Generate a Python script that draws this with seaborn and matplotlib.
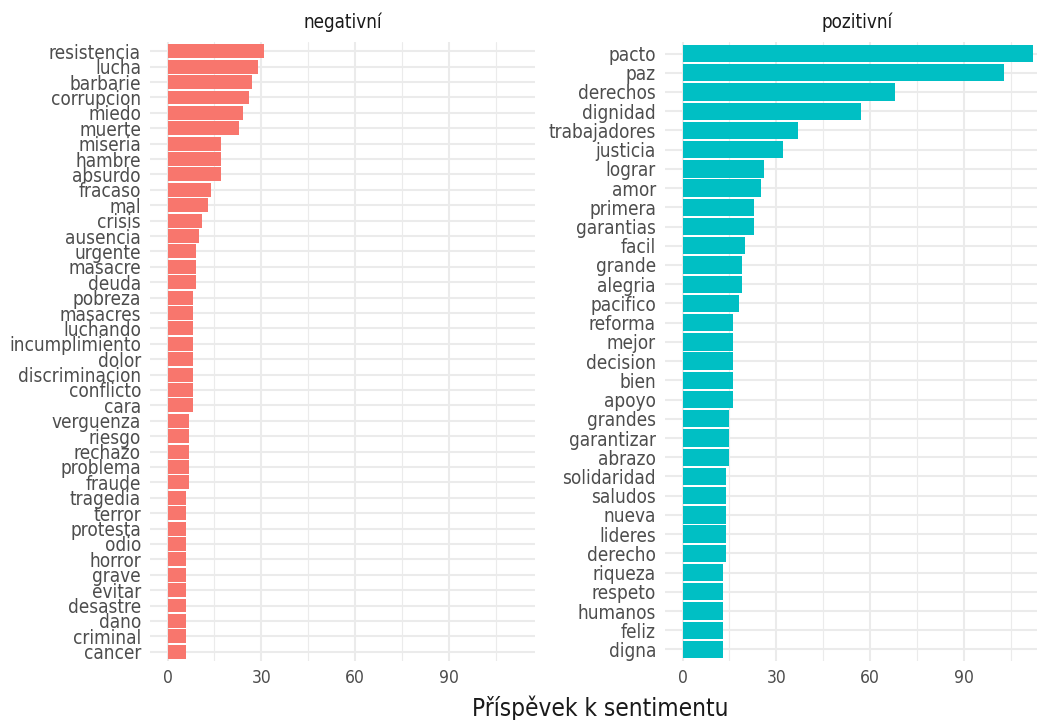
import pandas as pd
import matplotlib
matplotlib.use("Agg")
import matplotlib.pyplot as plt
import seaborn as sns

# --- dados ---
neg_words = ['resistencia', 'lucha', 'barbarie', 'corrupcion', 'miedo', 'muerte',
             'miseria', 'hambre', 'absurdo', 'fracaso', 'mal', 'crisis', 'ausencia',
             'urgente', 'masacre', 'deuda', 'pobreza', 'masacres', 'luchando',
             'incumplimiento', 'dolor', 'discriminacion', 'conflicto', 'cara',
             'verguenza', 'riesgo', 'rechazo', 'problema', 'fraude', 'tragedia',
             'terror', 'protesta', 'odio', 'horror', 'grave', 'evitar', 'desastre',
             'dano', 'criminal', 'cancer']
neg_values = [31, 29, 27, 26, 24, 23,
              17, 17, 17, 14, 13, 11, 10,
              9, 9, 9, 8, 8, 8,
              8, 8, 8, 8, 8,
              7, 7, 7, 7, 7, 6,
              6, 6, 6, 6, 6, 6, 6,
              6, 6, 6]

pos_words = ['pacto', 'paz', 'derechos', 'dignidad', 'trabajadores', 'justicia',
             'lograr', 'amor', 'primera', 'garantias', 'facil', 'grande', 'alegria',
             'pacifico', 'reforma', 'mejor', 'decision', 'bien', 'apoyo', 'grandes',
             'garantizar', 'abrazo', 'solidaridad', 'saludos', 'nueva', 'lideres',
             'derecho', 'riqueza', 'respeto', 'humanos', 'feliz', 'digna']
pos_values = [112, 103, 68, 57, 37, 32,
              26, 25, 23, 23, 20, 19, 19,
              18, 16, 16, 16, 16, 16, 15,
              15, 15, 14, 14, 14, 14,
              14, 13, 13, 13, 13, 13]

facetas = ['negativní', 'pozitivní']
cores = ['#F8766D', '#00BFC4']
titulo_x = 'Příspěvek k sentimentu'

df_neg = pd.DataFrame({'palabra': neg_words, 'n': neg_values})
df_pos = pd.DataFrame({'palabra': pos_words, 'n': pos_values})

sns.set_theme(style="white")
plt.rcParams['font.family'] = ['DejaVu Sans']
plt.rcParams['font.stretch'] = 'condensed'

W, H = 1037, 720
fig = plt.figure(figsize=(W / 100, H / 100), dpi=100)

# painéis como no facet_wrap (o da direita sai um pouco da imagem)
ax_neg = fig.add_axes([150 / W, 59 / H, 385 / W, 619 / H])
ax_pos = fig.add_axes([665 / W, 59 / H, 385 / W, 619 / H])

xmax = max(max(neg_values), max(pos_values))

for ax, df, cor, titulo in zip([ax_neg, ax_pos], [df_neg, df_pos], cores, facetas):
    sns.barplot(data=df, x='n', y='palabra', color=cor, saturation=1,
                width=0.9, linewidth=0, orient='h', ax=ax)
    n = len(df)
    ax.set_ylim(n - 1 + 0.6, -0.6)
    ax.set_xlim(-0.05 * xmax, 1.05 * xmax)
    ax.set_xticks([0, 30, 60, 90])
    ax.set_xticks([15, 45, 75, 105], minor=True)
    ax.grid(which='major', color='#EBEBEB', lw=1.5)
    ax.grid(which='minor', axis='x', color='#EBEBEB', lw=0.8)
    ax.set_axisbelow(True)
    for s in ax.spines.values():
        s.set_visible(False)
    ax.tick_params(which='both', length=0)
    ax.tick_params(axis='y', labelsize=13.6, labelcolor='#4D4D4D', pad=6.5)
    ax.tick_params(axis='x', labelsize=12.5, labelcolor='#4D4D4D', pad=6)
    ax.set_xlabel('')
    ax.set_ylabel('')
    pos = ax.get_position()
    fig.text((pos.x0 + pos.x1) / 2, (H - 22.7) / H, titulo, ha='center', va='center',
             fontsize=13.5, color='#1A1A1A')

fig.text(600.5 / W, 4 / H, titulo_x, ha='center', va='baseline',
         fontsize=17.5, color='#1A1A1A')

fig.savefig('out.png', dpi=100, facecolor='white')
